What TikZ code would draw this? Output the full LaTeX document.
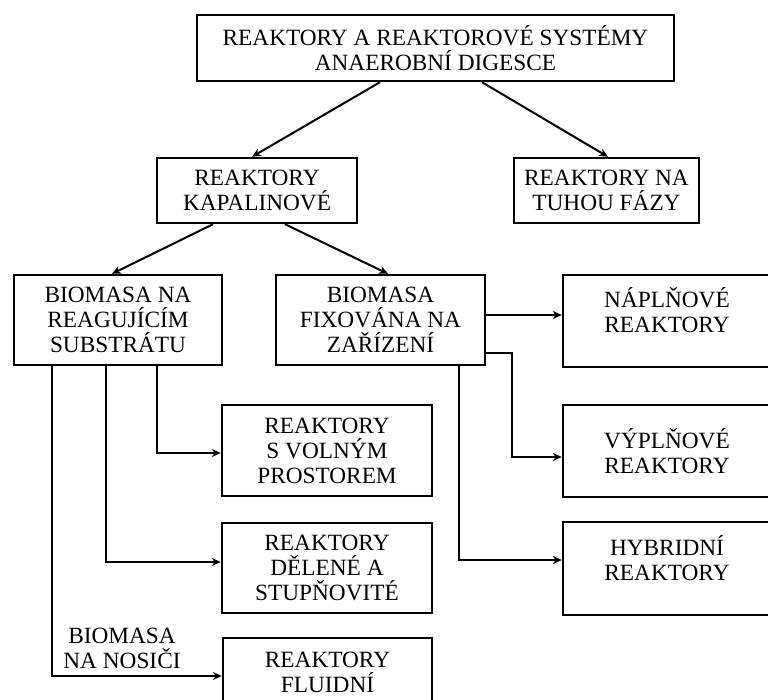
\documentclass[tikz,border=0pt]{standalone}
\usepackage{fontspec}
\setmainfont{Liberation Serif}
\usetikzlibrary{arrows.meta}
\begin{document}
\begin{tikzpicture}[x=1pt,y=-1pt,>={Stealth[length=9pt,width=8pt]},
box/.style={draw,line width=2.4pt,align=center,inner sep=0pt,font=\fontsize{23.3}{25}\selectfont},
high/.style={text depth=22pt},
arr/.style={->,line width=2pt}]
\useasboundingbox[fill=white](0,0)rectangle(768,699);
\node[box,minimum width=477,minimum height=66](top)at(435.5,48){REAKTORY A REAKTOROVÉ SYSTÉMY\\ANAEROBNÍ DIGESCE};
\node[box,minimum width=200,minimum height=65](kapal)at(257,190.5){REAKTORY\\KAPALINOVÉ};
\node[box,minimum width=185,minimum height=65](tuhou)at(606.5,190.5){REAKTORY NA\\TUHOU FÁZY};
\node[box,minimum width=208,minimum height=90](reag)at(118,320){BIOMASA NA\\REAGUJÍCÍM\\SUBSTRÁTU};
\node[box,minimum width=209,minimum height=90](fix)at(380.5,320){BIOMASA\\FIXOVÁNA NA\\ZAŘÍZENÍ};
\node[box,high,minimum width=208,minimum height=92](napln)at(667,321){NÁPLŇOVÉ\\REAKTORY};
\node[box,minimum width=208,minimum height=92](vypln)at(667,451){VÝPLŇOVÉ\\REAKTORY};
\node[box,high,minimum width=208,minimum height=93](hybrid)at(667,568.5){HYBRIDNÍ\\REAKTORY};
\node[box,minimum width=210,minimum height=91](volny)at(327,450.5){REAKTORY\\S VOLNÝM\\PROSTOREM};
\node[box,minimum width=210,minimum height=90](delene)at(327,568){REAKTORY\\DĚLENÉ A\\STUPŇOVITÉ};
\node[box,high,minimum width=209,minimum height=90](fluid)at(327.5,683){REAKTORY\\FLUIDNÍ};
\node[align=center,inner sep=0pt,font=\fontsize{23.3}{25}\selectfont](nosici)at(122,648){BIOMASA\\NA NOSIČI};
% stromove vetve
\draw[arr]([xshift=-55.5pt]top.south)--([xshift=-5pt]kapal.north);
\draw[arr]([xshift=46.5pt]top.south)--([xshift=1.5pt]tuhou.north);
\draw[arr]([xshift=-44pt]kapal.south)--([xshift=-6pt]reag.north);
\draw[arr]([xshift=28pt]kapal.south)--([xshift=7.5pt]fix.north);
% pravouhle spoje
\draw[arr]([yshift=5pt]fix.east)--([yshift=5pt]fix.east-|napln.west);
\draw[arr]([yshift=-33pt]fix.east)--++(26pt,0)|-([yshift=-6pt]vypln.west);
\draw[arr]([xshift=78.5pt]fix.south)|-([yshift=8.5pt]hybrid.west);
\draw[arr]([xshift=39pt]reag.south)|-([yshift=-2.5pt]volny.west);
\draw[arr]([xshift=-12pt]reag.south)|-([yshift=6pt]delene.west);
\draw[arr]([xshift=-66pt]reag.south)|-([yshift=7pt]fluid.west);
\end{tikzpicture}
\end{document}
